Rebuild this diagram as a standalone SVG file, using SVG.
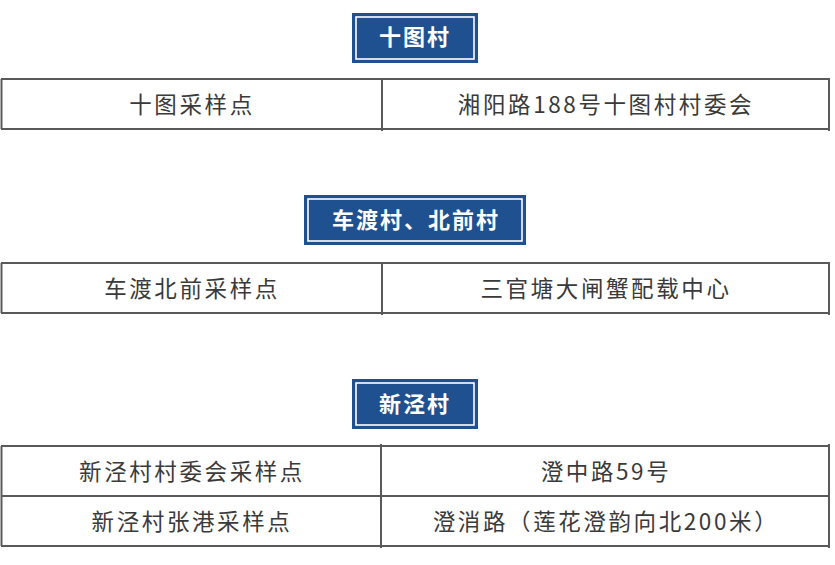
<svg xmlns="http://www.w3.org/2000/svg" width="835" height="565" viewBox="0 0 835 565">
<style>
.badge{fill:#1f5190}
.inner{fill:none;stroke:#ffffff;stroke-width:1.6}
.btxt{font-family:"Noto Sans CJK SC","Noto Sans",sans-serif;font-weight:700;font-size:22px;fill:#ffffff;text-anchor:middle;letter-spacing:2px}
.ln{stroke:#5a5a5a;stroke-width:2;fill:none}
.ct{font-family:"Noto Sans CJK SC","Noto Sans",sans-serif;font-weight:400;font-size:22.5px;fill:#3a3a3a;text-anchor:middle;letter-spacing:2.6px}
</style>
<rect width="835" height="565" fill="#ffffff"/>
<g id="badge1">
<rect class="badge" x="352" y="13" width="126" height="50"/>
<rect class="inner" x="356" y="17" width="118" height="42"/>
<text class="btxt" x="415" y="45">十图村</text>
</g>
<g id="table1">
<line class="ln" x1="1" y1="79" x2="830" y2="79"/>
<line class="ln" x1="1" y1="129" x2="830" y2="129"/>
<line class="ln" x1="1.5" y1="79" x2="1.5" y2="129"/>
<line class="ln" x1="382" y1="79" x2="382" y2="131"/>
<line class="ln" x1="829" y1="78" x2="829" y2="131"/>
<text class="ct" x="192" y="113">十图采样点</text>
<text class="ct" x="606" y="113">湘阳路188号十图村村委会</text>
</g>
<g id="badge2">
<rect class="badge" x="304" y="195" width="222" height="50"/>
<rect class="inner" x="308" y="199" width="214" height="42"/>
<text class="btxt" x="416" y="228">车渡村、北前村</text>
</g>
<g id="table2">
<line class="ln" x1="1" y1="263" x2="830" y2="263"/>
<line class="ln" x1="1" y1="313" x2="830" y2="313"/>
<line class="ln" x1="1.5" y1="263" x2="1.5" y2="313"/>
<line class="ln" x1="382" y1="263" x2="382" y2="315"/>
<line class="ln" x1="829" y1="262" x2="829" y2="315"/>
<text class="ct" x="192" y="297">车渡北前采样点</text>
<text class="ct" x="606" y="297">三官塘大闸蟹配载中心</text>
</g>
<g id="badge3">
<rect class="badge" x="352" y="379" width="126" height="50"/>
<rect class="inner" x="356" y="383" width="118" height="42"/>
<text class="btxt" x="415" y="412">新泾村</text>
</g>
<g id="table3">
<line class="ln" x1="1" y1="446" x2="830" y2="446"/>
<line class="ln" x1="1" y1="496" x2="830" y2="496"/>
<line class="ln" x1="1" y1="546" x2="830" y2="546"/>
<line class="ln" x1="1.5" y1="446" x2="1.5" y2="546"/>
<line class="ln" x1="381" y1="444" x2="381" y2="548"/>
<line class="ln" x1="829" y1="444" x2="829" y2="548"/>
<text class="ct" x="192" y="480">新泾村村委会采样点</text>
<text class="ct" x="606" y="480">澄中路59号</text>
<text class="ct" x="192" y="530">新泾村张港采样点</text>
<text class="ct" x="606" y="530">澄消路（莲花澄韵向北200米）</text>
</g>
</svg>
